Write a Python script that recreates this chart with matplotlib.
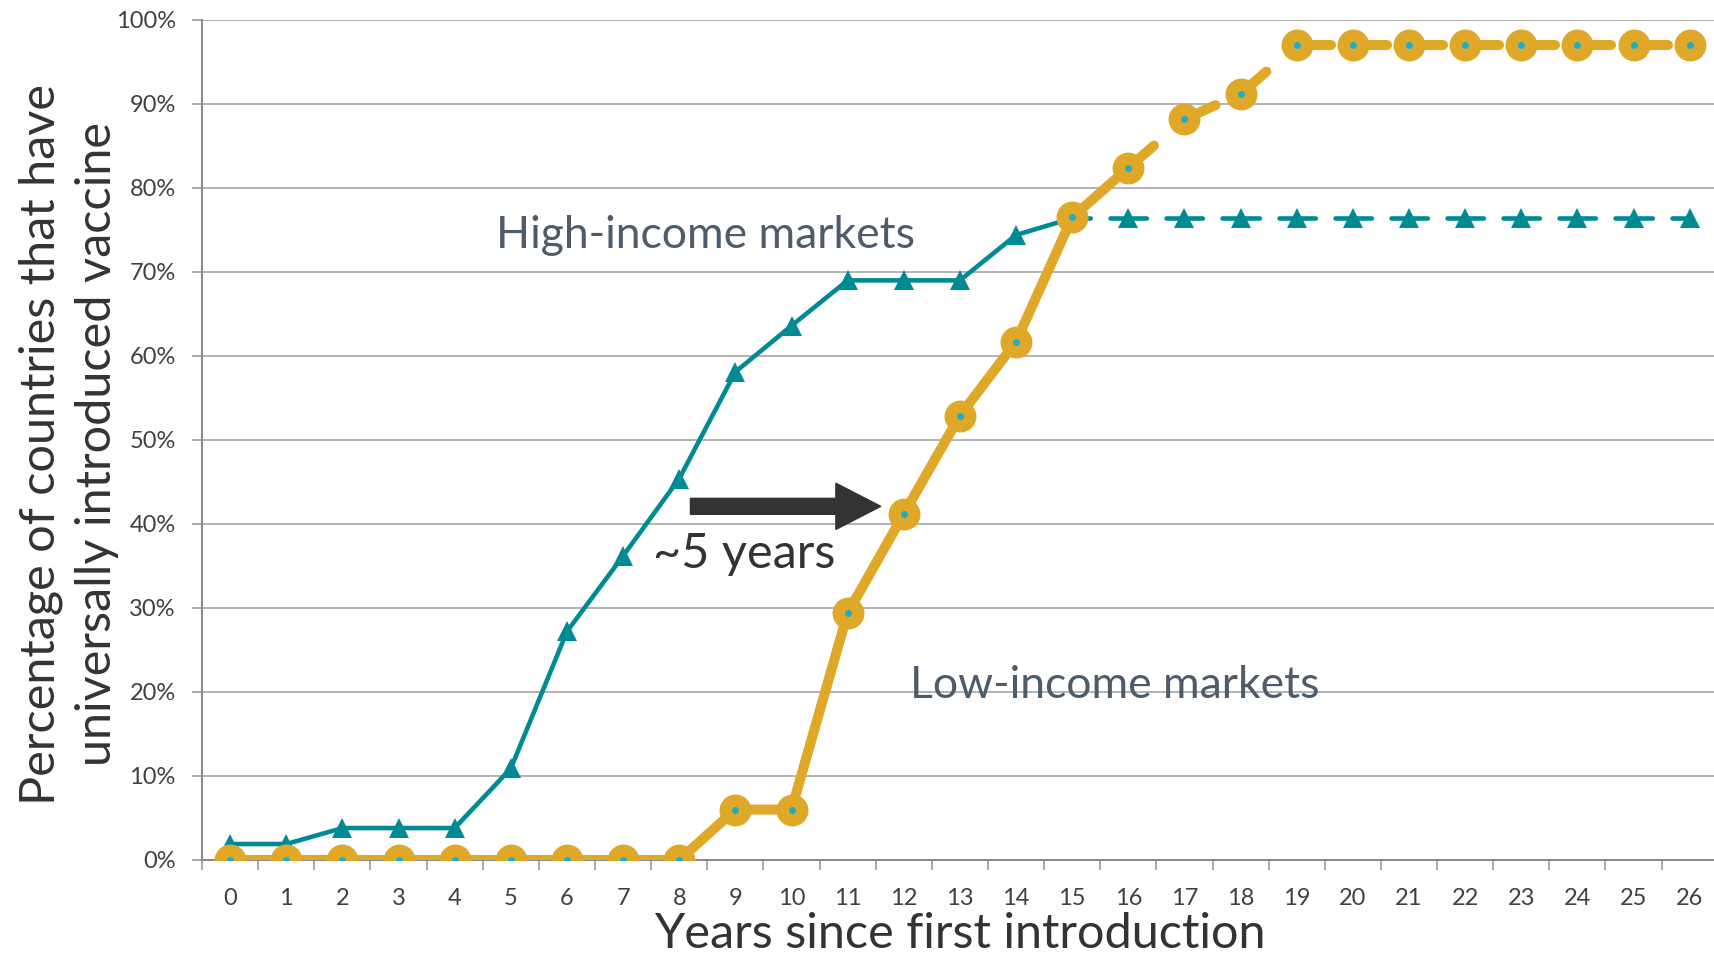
import matplotlib
matplotlib.use('Agg')
import matplotlib.pyplot as plt
from matplotlib.ticker import FuncFormatter, MultipleLocator

# data (percent of countries)
years = list(range(27))
high_income = [1.9, 1.9, 3.8, 3.8, 3.8, 10.9, 27.2, 36.2, 45.4, 58.1, 63.6, 69.0, 69.0, 69.0,
               74.4, 76.4, 76.4, 76.4, 76.4, 76.4, 76.4, 76.4, 76.4, 76.4, 76.4, 76.4, 76.4]
low_income = [0, 0, 0, 0, 0, 0, 0, 0, 0, 6.0, 6.0, 29.4, 41.2, 52.9, 61.7, 76.5, 82.4, 88.2,
              91.2, 97.0, 97.0, 97.0, 97.0, 97.0, 97.0, 97.0, 97.0]
high_dash_from = 15   # projected part drawn dashed
low_dash_from = 16

teal = '#008b94'
gold = '#e0a828'
dot = '#1ab0c8'
grey_txt = '#404040'
slate = '#4d5b6b'

plt.rcParams['font.family'] = ['Lato', 'DejaVu Sans']

fig = plt.figure(figsize=(17.14, 9.55), dpi=100)
ax = fig.add_axes([0.1179, 0.0995, 0.8843, 0.8796])

# high-income: solid, then dashed segment by segment
ax.plot(years[:high_dash_from + 1], high_income[:high_dash_from + 1], color=teal, lw=3.3,
        solid_capstyle='round', solid_joinstyle='round', zorder=3)
for i in range(high_dash_from, len(years) - 1):
    ax.plot(years[i:i + 2], high_income[i:i + 2], color=teal, lw=3.3,
            linestyle=(0, (4.0, 4.3)), dash_capstyle='round', zorder=3)
ax.plot(years, high_income, linestyle='none', marker='^', markersize=14,
        color=teal, markeredgewidth=0, zorder=4)

# low-income
ax.plot(years[:low_dash_from + 1], low_income[:low_dash_from + 1], color=gold, lw=7.2,
        solid_capstyle='round', solid_joinstyle='round', zorder=5)
for i in range(low_dash_from, len(years) - 1):
    ax.plot(years[i:i + 2], low_income[i:i + 2], color=gold, lw=7.2,
            linestyle=(0, (3.4, 4.5)), dash_capstyle='round', zorder=5)
ax.plot(years, low_income, linestyle='none', marker='o', markersize=23,
        color=gold, markeredgewidth=0, zorder=6)
ax.plot(years, low_income, linestyle='none', marker='o', markersize=5,
        color=dot, markeredgewidth=0, zorder=7)

# annotations
ax.text(8.47, 74.3, 'High-income markets', color=slate, fontsize=32, ha='center', va='center')
ax.text(15.76, 20.8, 'Low-income markets', color=slate, fontsize=32, ha='center', va='center')
ax.arrow(8.2, 42.1, 11.59 - 8.2, 0, width=1.9, head_width=5.5, head_length=0.8,
         length_includes_head=True, color='#333333', zorder=8)
ax.text(9.16, 36.4, '~5 years', color='#333333', fontsize=35, ha='center', va='center')

ax.set_xlim(-0.5, 26.5)
ax.set_ylim(0, 100)
ax.set_xticks(years)
ax.xaxis.set_minor_locator(MultipleLocator(1, offset=0.5))
ax.tick_params(axis='x', which='major', length=0, labelsize=17, labelcolor=grey_txt, pad=20)
ax.tick_params(axis='x', which='minor', length=7, width=1.2, color='#999999')
ax.yaxis.set_major_locator(MultipleLocator(10))
ax.yaxis.set_major_formatter(FuncFormatter(lambda v, p: f'{v:.0f}%'))
ax.tick_params(axis='y', length=7, width=1.2, color='#999999', labelsize=17,
               labelcolor=grey_txt, pad=12)
ax.grid(axis='y', color='#a6a6a6', lw=1.2)
ax.set_axisbelow(True)
for s in ['top', 'right']:
    ax.spines[s].set_visible(False)
for s in ['left', 'bottom']:
    ax.spines[s].set_color('#8c8c8c')
    ax.spines[s].set_linewidth(1.5)

fig.text(0.560, 0.022, 'Years since first introduction', fontsize=35, color='#333333',
         ha='center', va='center')
fig.text(0.040, 0.535, 'Percentage of countries that have\nuniversally introduced vaccine',
         fontsize=35, color='#333333', ha='center', va='center', rotation=90,
         multialignment='center', linespacing=1.35)

fig.savefig('out.png', dpi=100)
